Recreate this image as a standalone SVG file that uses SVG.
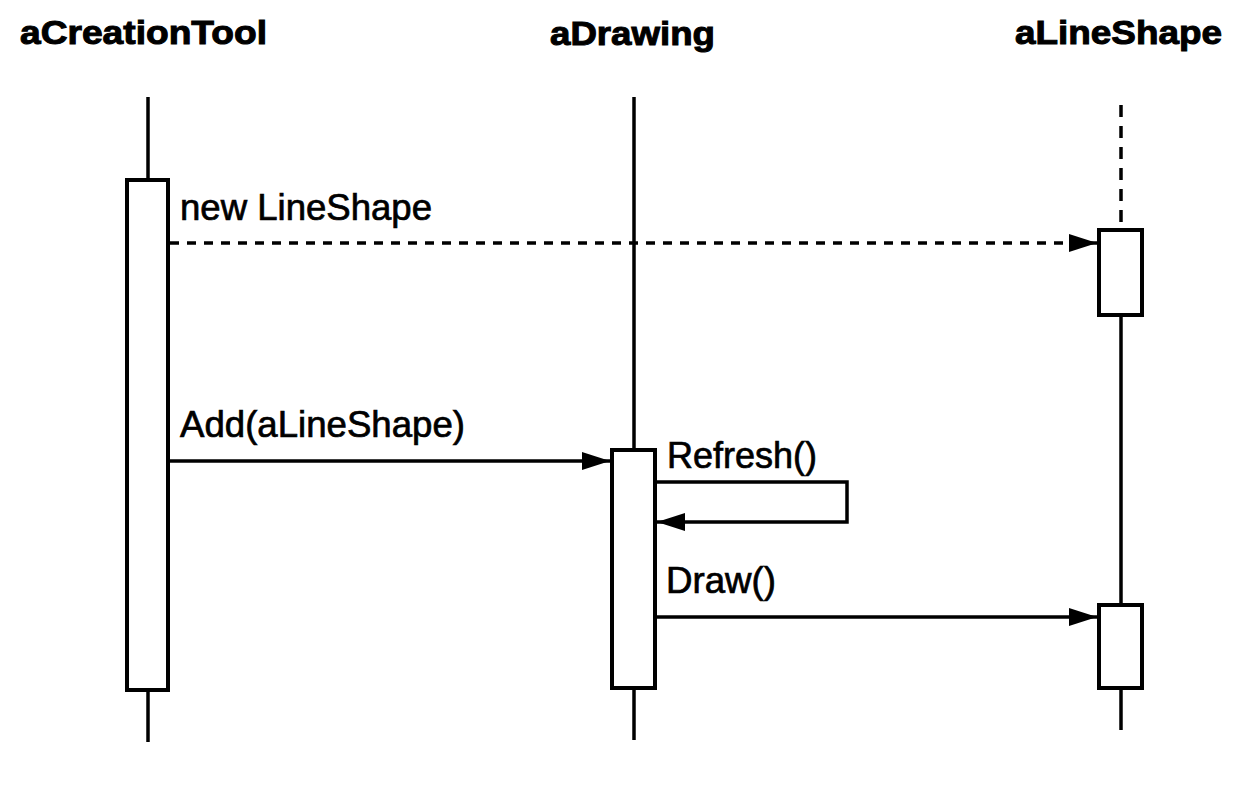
<svg xmlns="http://www.w3.org/2000/svg" width="1250" height="788" viewBox="0 0 1250 788">
<style>
.hdr{font-family:"Liberation Sans",Arial,sans-serif;font-weight:bold;font-size:33px;fill:#000;stroke:#000;stroke-width:1}
.lbl{font-family:"Liberation Sans",Arial,sans-serif;font-size:36px;fill:#000;stroke:#000;stroke-width:0.7}
.life{stroke:#000;stroke-width:3.5;fill:none}
.act{stroke:#000;stroke-width:4;fill:#fff}
.msg{stroke:#000;stroke-width:3.5;fill:none;marker-end:url(#ah)}
.dash{stroke-dasharray:9 8}
</style>
<defs>
<marker id="ah" markerUnits="userSpaceOnUse" markerWidth="30" markerHeight="22" refX="28" refY="10" orient="auto">
<path d="M0,1 L28,10 L0,19 Z" fill="#000"/>
</marker>
</defs>
<rect width="1250" height="788" fill="#fff"/>
<g id="aCreationTool">
<text class="hdr" x="20" y="44" textLength="247" lengthAdjust="spacingAndGlyphs">aCreationTool</text>
<line class="life" x1="148" y1="97" x2="148" y2="180"/>
<line class="life" x1="148" y1="690" x2="148" y2="742"/>
<rect class="act" x="127" y="180" width="41" height="510"/>
</g>
<g id="aDrawing">
<text class="hdr" x="550" y="45" textLength="165" lengthAdjust="spacingAndGlyphs">aDrawing</text>
<line class="life" x1="634" y1="97" x2="634" y2="740" stroke-width="2.5"/>
<rect class="act" x="612" y="450" width="43" height="238"/>
</g>
<g id="aLineShape">
<text class="hdr" x="1015" y="44" textLength="207" lengthAdjust="spacingAndGlyphs">aLineShape</text>
<line class="life" x1="1121" y1="105" x2="1121" y2="230" stroke-dasharray="12 9"/>
<line class="life" x1="1121" y1="315" x2="1121" y2="605"/>
<line class="life" x1="1121" y1="688" x2="1121" y2="730"/>
<rect class="act" x="1099" y="230" width="43" height="85"/>
<rect class="act" x="1099" y="605" width="43" height="83"/>
</g>
<g id="connectors">
<line class="msg dash" x1="170" y1="243" x2="1097" y2="243"/>
<line class="msg" x1="170" y1="461" x2="610" y2="461"/>
<path class="msg" d="M655,482 H847 V522 H657"/>
<line class="msg" x1="656" y1="617" x2="1097" y2="617"/>
</g>
<g id="labels">
<text class="lbl" x="180" y="220" textLength="252" lengthAdjust="spacingAndGlyphs">new LineShape</text>
<text class="lbl" x="180" y="437" textLength="285" lengthAdjust="spacingAndGlyphs">Add(aLineShape)</text>
<text class="lbl" x="667" y="468" textLength="150" lengthAdjust="spacingAndGlyphs">Refresh()</text>
<text class="lbl" x="666" y="593" textLength="110" lengthAdjust="spacingAndGlyphs">Draw()</text>
</g>
</svg>
